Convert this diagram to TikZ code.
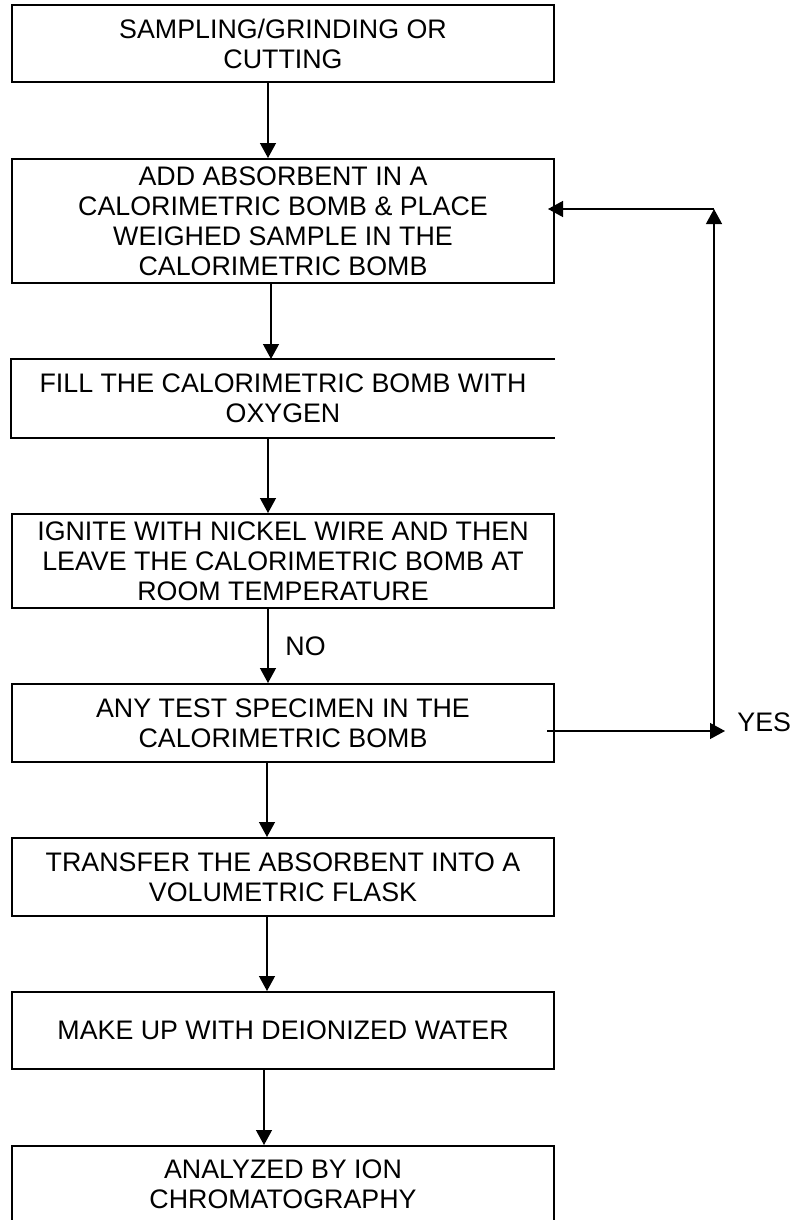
\documentclass[tikz,border=0pt]{standalone}
\usepackage{fontspec}
\setmainfont{Liberation Sans}
\usetikzlibrary{positioning,arrows.meta,calc}
\tikzset{
  box/.style={draw,line width=1pt,minimum width=271pt,inner sep=0pt,align=center,font=\fontsize{13.4}{15}\selectfont},
  openbox/.style={box,draw=none},
  arr/.style={-{Triangle[length=7.5pt,width=8pt]},line width=0.65pt},
  lbl/.style={anchor=west,inner sep=0pt,font=\fontsize{13.4}{15}\selectfont},
}
\newcommand{\stepbox}[5][box]{%
  \node[#1,minimum height=#4] (#2) at (283,#3) {#5};}

\begin{document}
\begin{tikzpicture}[x=0.5pt,y=-0.5pt]
\useasboundingbox (0,0) rectangle (794,1220);
\clip (0,0) rectangle (794,1220);
\stepbox{b1}{43.5}{38.5pt}{SAMPLING/GRINDING OR\\CUTTING}
\stepbox{b2}{221}{62pt}{ADD ABSORBENT IN A\\CALORIMETRIC BOMB \& PLACE\\WEIGHED SAMPLE IN THE\\CALORIMETRIC BOMB}
\stepbox[openbox]{b3}{398.5}{38.5pt}{FILL THE CALORIMETRIC BOMB WITH\\OXYGEN}
\stepbox{b4}{561}{47pt}{IGNITE WITH NICKEL WIRE AND THEN\\LEAVE THE CALORIMETRIC BOMB AT\\ROOM TEMPERATURE}
\stepbox{b5}{723}{39pt}{ANY TEST SPECIMEN IN THE\\CALORIMETRIC BOMB}
\stepbox{b6}{877}{39pt}{TRANSFER THE ABSORBENT INTO A\\VOLUMETRIC FLASK}
\stepbox{b7}{1030.5}{38.5pt}{MAKE UP WITH DEIONIZED WATER}
\stepbox{b8}{1184.5}{38.5pt}{ANALYZED BY ION\\CHROMATOGRAPHY}
\draw[line width=1pt] (b3.north east) -- (b3.north west) -- (b3.south west) -- (b3.south east);
\draw[arr] ($(b1.south)+(-15,0)$) -- ($(b2.north)+(-15,0)$);
\draw[arr] ($(b2.south)+(-12,0)$) -- ($(b3.north)+(-12,0)$);
\draw[arr] ($(b3.south)+(-15,0)$) -- ($(b4.north)+(-15,0)$);
\draw[arr] ($(b4.south)+(-15,0)$) -- ($(b5.north)+(-15,0)$);
\draw[arr] ($(b5.south)+(-16,0)$) -- ($(b6.north)+(-16,0)$);
\draw[arr] ($(b6.south)+(-16,0)$) -- ($(b7.north)+(-16,0)$);
\draw[arr] ($(b7.south)+(-19,0)$) -- ($(b8.north)+(-19,0)$);
\node[lbl] (no) at (285,646) {NO};
\coordinate (yesend) at (725,731);
\coordinate (loopbot) at (714,731);
\coordinate (looptop) at (714,209);
\draw[arr] ($(b5.east)+(-8,8)$) -- (yesend);
\draw[arr] (loopbot) -- (looptop);
\draw[arr] (looptop) -- ($(b2.east |- looptop)+(-7,0)$);
\node[lbl] (yes) at (737,722.5) {YES};
\end{tikzpicture}
\end{document}
